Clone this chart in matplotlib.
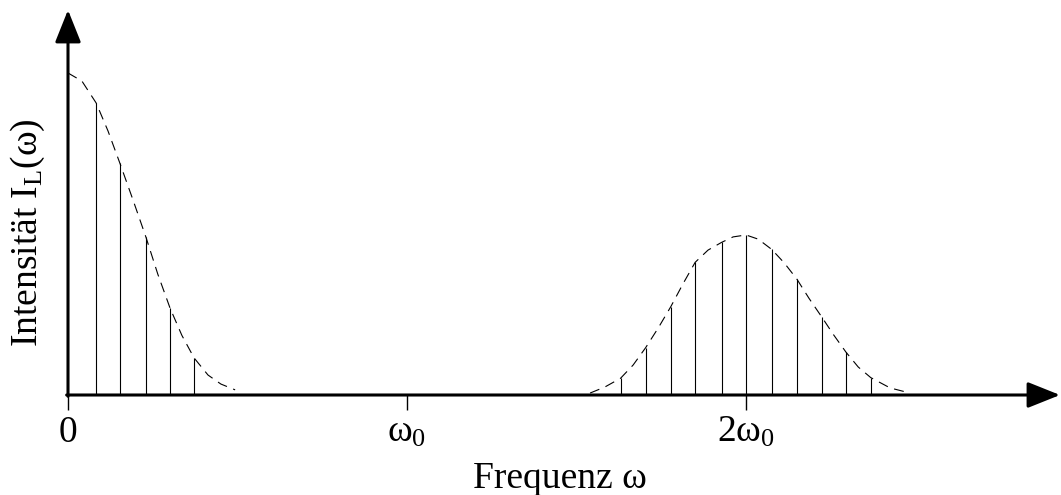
import matplotlib
matplotlib.use("Agg")
import matplotlib.pyplot as plt

plt.rcParams['font.family'] = ['Liberation Serif', 'DejaVu Serif']
plt.rcParams['mathtext.fontset'] = 'custom'
plt.rcParams['mathtext.rm'] = 'Liberation Serif'
plt.rcParams['mathtext.it'] = 'Liberation Serif'
plt.rcParams['mathtext.bf'] = 'Liberation Serif'
plt.rcParams['mathtext.default'] = 'rm'

# ---- data (frequency in units of omega_0, intensity normalised) ----
left_lines_x = [0.083, 0.153, 0.230, 0.301, 0.372]
left_lines_y = [0.907, 0.720, 0.490, 0.270, 0.115]

right_lines_x = [1.630, 1.704, 1.778, 1.850, 1.928, 2.000, 2.076, 2.150, 2.223, 2.295, 2.368]
right_lines_y = [0.052, 0.147, 0.274, 0.412, 0.474, 0.497, 0.452, 0.360, 0.243, 0.133, 0.054]

left_env_x = [0.000, 0.041, 0.083, 0.118, 0.153, 0.192, 0.230, 0.265, 0.301, 0.336, 0.372, 0.413, 0.451, 0.493]
left_env_y = [1.000, 0.975, 0.907, 0.820, 0.720, 0.605, 0.490, 0.375, 0.270, 0.185, 0.115, 0.062, 0.034, 0.016]

right_env_x = [1.540, 1.584, 1.630, 1.667, 1.704, 1.741, 1.778, 1.814, 1.850, 1.888, 1.928, 1.962, 2.000,
               2.036, 2.076, 2.113, 2.150, 2.186, 2.223, 2.259, 2.295, 2.331, 2.368, 2.425, 2.484]
right_env_y = [0.006, 0.025, 0.052, 0.093, 0.147, 0.208, 0.274, 0.345, 0.412, 0.450, 0.474, 0.491, 0.497,
               0.484, 0.452, 0.410, 0.360, 0.300, 0.243, 0.186, 0.133, 0.087, 0.054, 0.022, 0.006]

tick_pos = [0, 1, 2]
tick_labels = ['0', r'$\omega_0$', r'$2\omega_0$']
xlabel = 'Frequenz ω'
ylabel = r'Intensität I$_\mathrm{L}$(ω)'

W, H = 1061, 495
fig = plt.figure(figsize=(W / 100, H / 100), dpi=100)
ax = fig.add_axes([0, 0, 1, 1])
x0px, unit_x = 68, 339.0
base_px, unit_y = 100, 322.0
ax.set_xlim(-x0px / unit_x, (W - x0px) / unit_x)
ax.set_ylim(-base_px / unit_y, (H - base_px) / unit_y)
ax.axis('off')

# stems
ax.vlines(left_lines_x, 0, left_lines_y, colors='black', linewidth=0.8)
ax.vlines(right_lines_x, 0, right_lines_y, colors='black', linewidth=0.8)

# envelopes
ax.plot(left_env_x, left_env_y, color='black', linewidth=0.8, dashes=(9, 6))
ax.plot(right_env_x, right_env_y, color='black', linewidth=0.8, dashes=(9, 6))

# tick marks below the axis, with their labels
ax.vlines(tick_pos, -15 / unit_y, 0, colors='black', linewidth=1.0, zorder=5)
for xp, lab in zip(tick_pos, tick_labels):
    ax.text(xp, -47 / unit_y, lab, ha='center', va='baseline', fontsize=27)

# axes with arrows
ymax = (H - 10 - base_px) / unit_y
xmax = (W - 1 - x0px) / unit_x
arrow = dict(arrowstyle='-|>,head_length=1.0,head_width=0.4', mutation_scale=20,
             lw=2.2, color='black', shrinkA=0, shrinkB=0)
ax.annotate('', xy=(xmax, 0), xytext=(-0.004, 0), arrowprops=arrow)
ax.annotate('', xy=(0, ymax), xytext=(0, -0.004), arrowprops=arrow)

fig.text(560 / W, 7 / H, xlabel, ha='center', va='baseline', fontsize=27)
fig.text(28 / W, 262 / H, ylabel, ha='center', va='center', rotation=90, fontsize=27)

fig.savefig('out.png', dpi=100)
